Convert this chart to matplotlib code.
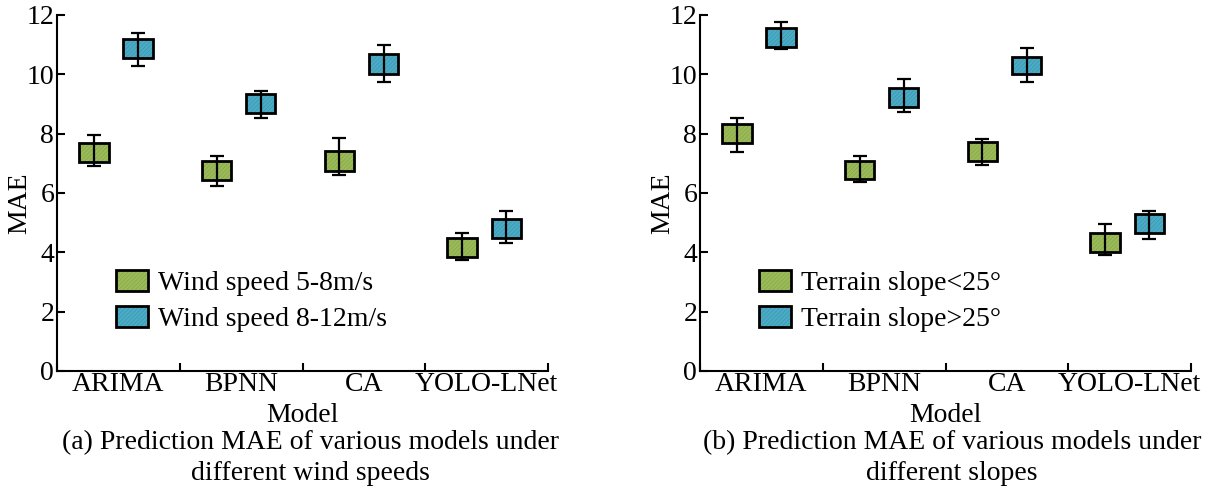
import matplotlib
matplotlib.use('Agg')
from matplotlib import pyplot as plt
import numpy as np

plt.rcParams['font.family'] = ['Liberation Serif', 'DejaVu Serif']
plt.rcParams['hatch.linewidth'] = 0.5

models = ['ARIMA', 'BPNN', 'CA', 'YOLO-LNet']

# (a) wind speed: box bottom / top, whisker low / high
wind_low_q1 = [7.04, 6.44, 6.74, 3.83]
wind_low_q3 = [7.69, 7.08, 7.41, 4.49]
wind_low_lo = [6.92, 6.22, 6.62, 3.74]
wind_low_hi = [7.94, 7.25, 7.85, 4.66]
wind_high_q1 = [10.54, 8.71, 10.02, 4.48]
wind_high_q3 = [11.18, 9.33, 10.67, 5.13]
wind_high_lo = [10.27, 8.52, 9.73, 4.30]
wind_high_hi = [11.38, 9.45, 10.98, 5.39]

# (b) terrain slope
slope_low_q1 = [7.69, 6.46, 7.07, 4.01]
slope_low_q3 = [8.33, 7.08, 7.71, 4.64]
slope_low_lo = [7.37, 6.36, 6.93, 3.91]
slope_low_hi = [8.52, 7.25, 7.82, 4.95]
slope_high_q1 = [10.93, 8.91, 10.00, 4.66]
slope_high_q3 = [11.55, 9.53, 10.60, 5.29]
slope_high_lo = [10.84, 8.72, 9.74, 4.45]
slope_high_hi = [11.75, 9.85, 10.89, 5.40]

green = '#9bbb59'
green_h = '#86a64a'
blue = '#4bacc6'
blue_h = '#3d97b0'
fs = 20


def draw_boxes(ax, x, q1, q3, lo, hi, fc, hc):
    q1 = np.array(q1)
    q3 = np.array(q3)
    mid = (q1 + q3) / 2
    h1 = ax.bar(x, q3 - q1, bottom=q1, width=0.24, color=fc, edgecolor=hc,
                hatch='////////', linewidth=0, zorder=2)
    h2 = ax.bar(x, q3 - q1, bottom=q1, width=0.24, fill=False,
                edgecolor='black', linewidth=2, zorder=3)
    yerr = [mid - np.array(lo), np.array(hi) - mid]
    ax.errorbar(x, mid, yerr=yerr, fmt='none', ecolor='black', elinewidth=1.6,
                capsize=5, capthick=1.6, zorder=4)
    return (h1[0], h2[0])


fig = plt.figure(figsize=(12.1, 4.92), dpi=100)
ax1 = fig.add_axes([57 / 1210, 1 - 371 / 492, 491 / 1210, 356 / 492])
ax2 = fig.add_axes([700 / 1210, 1 - 371 / 492, 491 / 1210, 356 / 492])

xi = np.arange(len(models))
panels = [
    (ax1, (wind_low_q1, wind_low_q3, wind_low_lo, wind_low_hi),
     (wind_high_q1, wind_high_q3, wind_high_lo, wind_high_hi),
     ['Wind speed 5-8m/s', 'Wind speed 8-12m/s'],
     ['(a) Prediction MAE of various models under', 'different wind speeds'], 310),
    (ax2, (slope_low_q1, slope_low_q3, slope_low_lo, slope_low_hi),
     (slope_high_q1, slope_high_q3, slope_high_lo, slope_high_hi),
     ['Terrain slope<25°', 'Terrain slope>25°'],
     ['(b) Prediction MAE of various models under', 'different slopes'], 952),
]

for ax, low, high, labels, caption, cx in panels:
    ha = draw_boxes(ax, xi + 0.30, *low, green, green_h)
    hb = draw_boxes(ax, xi + 0.66, *high, blue, blue_h)

    ax.set_xlim(0, 4)
    ax.set_ylim(0, 12)
    ax.set_yticks(range(0, 13, 2))
    ax.set_xticks(range(0, 5))
    ax.set_xticklabels([])
    ax.set_xticks(xi + 0.5, minor=True)
    ax.set_xticklabels(models, minor=True)
    ax.tick_params(axis='both', which='major', direction='in', length=6,
                   width=1.5, labelsize=fs, pad=2)
    ax.tick_params(axis='x', which='minor', length=0, labelsize=fs, pad=1)
    for s in ['top', 'right']:
        ax.spines[s].set_visible(False)
    for s in ['left', 'bottom']:
        ax.spines[s].set_linewidth(1.5)
    ax.set_ylabel('MAE', fontsize=fs)
    ax.yaxis.set_label_coords(-0.05, 0.47)
    ax.set_xlabel('Model', fontsize=fs, labelpad=4)

    ax.legend([ha, hb], labels, loc='upper left', bbox_to_anchor=(0.12, 0.285),
              frameon=False, fontsize=fs, handlelength=1.15, handleheight=0.8,
              handletextpad=0.35, labelspacing=0.35, borderpad=0, borderaxespad=0)

    fig.text(cx / 1210, 1 - 443 / 492, caption[0], ha='center', va='center', fontsize=fs)
    fig.text(cx / 1210, 1 - 473 / 492, caption[1], ha='center', va='center', fontsize=fs)

fig.savefig('out.png', dpi=100)
